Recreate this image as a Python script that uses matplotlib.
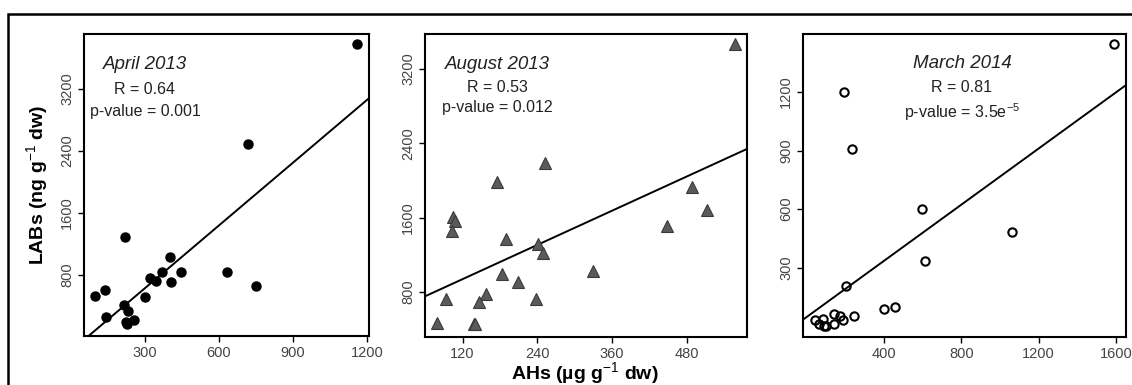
"""LABs vs AHs scatter panels for three sampling campaigns."""

import matplotlib

matplotlib.use("Agg")

import matplotlib.pyplot as plt
from matplotlib.patches import Rectangle

plt.rcParams["font.family"] = ["Liberation Sans", "DejaVu Sans"]
plt.rcParams["mathtext.fontset"] = "custom"
plt.rcParams["mathtext.rm"] = "Liberation Sans"
plt.rcParams["mathtext.it"] = "Liberation Sans:italic"
plt.rcParams["mathtext.bf"] = "Liberation Sans:bold"

# April 2013
april_ahs = [1158, 717, 219, 400, 448, 371, 634, 319, 343, 405,
             751, 137, 98, 300, 215, 233, 143, 256, 226, 222]
april_labs = [3775, 2492, 1285, 1028, 843, 834, 834, 761, 718, 714,
              654, 611, 525, 521, 414, 332, 255, 220, 169, 190]
april_fit = (-180.0, 2.70)  # intercept, slope

# August 2013
august_ahs = [558, 252, 175, 489, 513, 105, 108, 103, 449, 190, 241,
              249, 329, 184, 209, 157, 94, 147, 238, 79, 138, 140]
august_labs = [3465, 2190, 1985, 1931, 1680, 1608, 1565, 1454, 1511, 1375,
               1321, 1224, 1023, 990, 904, 782, 721, 692, 728, 470, 452, 452]
august_fit = (570.0, 3.067)

# March 2014
march_ahs = [1591, 194, 234, 597, 1064, 611, 201, 400, 455, 246,
             141, 173, 187, 82, 42, 64, 87, 101, 141]
march_labs = [1445, 1198, 909, 603, 485, 336, 206, 90, 96, 50,
              60, 50, 30, 38, 30, 9, 2, 2, 12]
march_fit = (47.4, 0.7195)

PANELS = (
    dict(x=april_ahs, y=april_labs, fit=april_fit, title="April 2013",
         r="R = 0.64", p="p-value = 0.001",
         xlim=(53, 1208), ylim=(13, 3910),
         xticks=[300, 600, 900, 1200], yticks=[800, 1600, 2400, 3200],
         rect=[0.0742, 0.1273, 0.2518, 0.7844], text_x=0.214,
         text_y=(0.90, 0.815, 0.742),
         marker=dict(marker="o", ms=6.5, mfc="black", mec="black")),
    dict(x=august_ahs, y=august_labs, fit=august_fit, title="August 2013",
         r="R = 0.53", p="p-value = 0.012",
         xlim=(59.5, 577), ylim=(315, 3577),
         xticks=[120, 240, 360, 480], yticks=[800, 1600, 2400, 3200],
         rect=[0.3754, 0.1247, 0.2845, 0.787], text_x=0.224,
         text_y=(0.90, 0.822, 0.756),
         marker=dict(marker="^", ms=8, mfc="#5a5a5a", mec="#3a3a3a", mew=0.8)),
    dict(x=march_ahs, y=march_labs, fit=march_fit, title="March 2014",
         r="R = 0.81", p=r"p-value = 3.5e$^{-5}$",
         xlim=(-20, 1652), ylim=(-56, 1498),
         xticks=[400, 800, 1200, 1600], yticks=[300, 600, 900, 1200],
         rect=[0.7094, 0.1247, 0.2853, 0.787], text_x=0.492,
         text_y=(0.904, 0.822, 0.743),
         marker=dict(marker="o", ms=6, mfc="none", mec="black", mew=1.5)),
)

fig = plt.figure(figsize=(11.32, 3.85), dpi=100)

for panel in PANELS:
    ax = fig.add_axes(panel["rect"])
    ax.plot(panel["x"], panel["y"], ls="none", **panel["marker"], zorder=3)

    intercept, slope = panel["fit"]
    x0, x1 = panel["xlim"]
    ax.plot([x0, x1], [intercept + slope * x0, intercept + slope * x1],
            color="black", lw=1.4, zorder=2)

    ax.set_xlim(*panel["xlim"])
    ax.set_ylim(*panel["ylim"])
    ax.set_xticks(panel["xticks"])
    ax.set_yticks(panel["yticks"])
    ax.tick_params(direction="out", length=4, width=1, colors="black",
                   labelcolor="#444444", labelsize=10.5, pad=3)
    for label in ax.get_yticklabels():
        label.set_rotation(90)
        label.set_va("center")
    for spine in ax.spines.values():
        spine.set_linewidth(1.5)

    tx = panel["text_x"]
    ty = panel["text_y"]
    ax.text(tx, ty[0], panel["title"], transform=ax.transAxes, ha="center",
            va="center", fontsize=13.5, style="italic", color="#222222")
    ax.text(tx, ty[1], panel["r"], transform=ax.transAxes, ha="center",
            va="center", fontsize=11.5, color="#222222")
    ax.text(tx, ty[2], panel["p"], transform=ax.transAxes, ha="center",
            va="center", fontsize=11.5, color="#222222")

fig.text(37 / 1132, 1 - 185 / 385, r"LABs (ng g$^{-1}$ dw)", rotation=90,
         ha="center", va="center", fontsize=14, fontweight="bold")
fig.text(585 / 1132, 1 - 373 / 385, r"AHs (µg g$^{-1}$ dw)",
         ha="center", va="center", fontsize=14, fontweight="bold")

# outer frame, running past the right and bottom edges
fig.patches.append(Rectangle((8 / 1132, -0.2), 1.2, 1.2 - 14 / 385,
                             transform=fig.transFigure, fill=False,
                             edgecolor="black", lw=1.8, clip_on=False))

fig.savefig("out.png", dpi=100)
plt.close(fig)
